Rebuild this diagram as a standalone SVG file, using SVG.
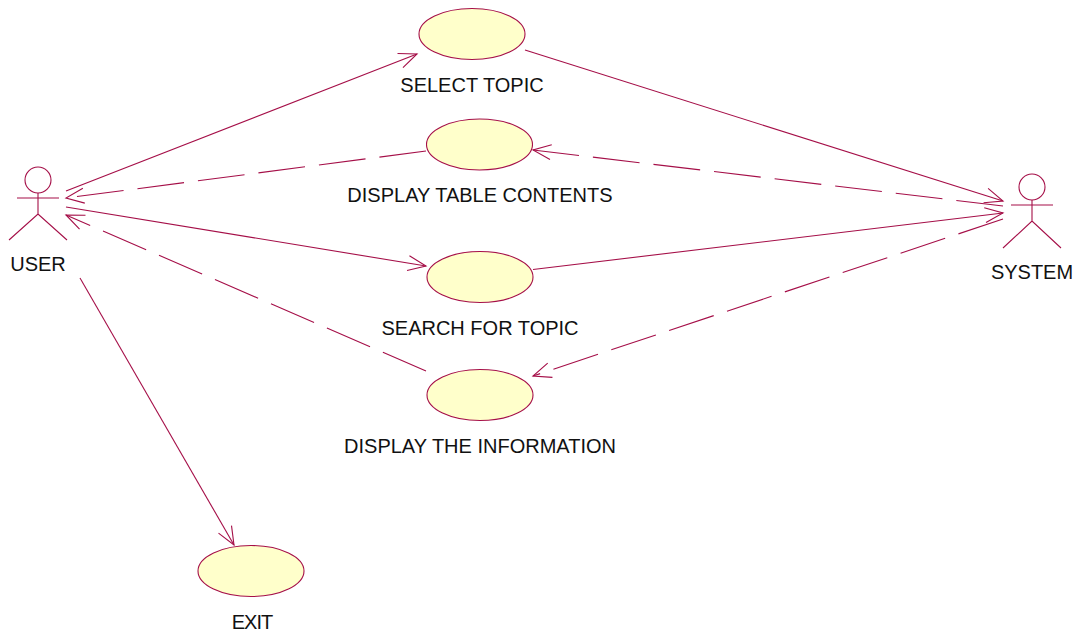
<svg xmlns="http://www.w3.org/2000/svg" width="1081" height="633" viewBox="0 0 1081 633">
<style>
.bg{fill:#fff}
.uc ellipse{fill:#ffffcb;stroke:#a50f48;stroke-width:1.1}
.actor *{fill:none;stroke:#a50f48;stroke-width:1.1}
.c line{fill:none;stroke:#a50f48;stroke-width:1.1}
.d{stroke-dasharray:47 14}
text{font-family:"Liberation Sans",Arial,sans-serif;font-size:20px;fill:#111;text-anchor:middle}
</style>
<defs>
<marker id="a" markerUnits="userSpaceOnUse" markerWidth="24" markerHeight="20" refX="20" refY="10" orient="auto"><path d="M2 2.500L20 10L2 17.500" fill="none" stroke="#a50f48" stroke-width="1.1"/></marker>
</defs>
<rect class="bg" width="1081" height="633"/>
<g id="connectors" class="c">
<line x1="66" y1="191" x2="417" y2="54" marker-end="url(#a)"/>
<line class="d" x1="426" y1="151" x2="66" y2="198" marker-end="url(#a)"/>
<line x1="66" y1="207" x2="426" y2="266" marker-end="url(#a)"/>
<line class="d" x1="426" y1="371" x2="66" y2="215" marker-end="url(#a)"/>
<line x1="80" y1="278" x2="234" y2="545" marker-end="url(#a)"/>
<line x1="525" y1="50" x2="1003" y2="201" marker-end="url(#a)"/>
<line class="d" x1="1003" y1="206" x2="533" y2="150" marker-end="url(#a)"/>
<line x1="533" y1="269.500" x2="1003" y2="213" marker-end="url(#a)"/>
<line class="d" x1="1003" y1="219" x2="533" y2="376" marker-end="url(#a)"/>
</g>
<g id="user">
<g class="actor"><circle cx="38" cy="180" r="13"/><path d="M17 198H59M38 193V214M9 240L38 214L67 240"/></g>
<text x="38" y="271">USER</text>
</g>
<g id="system">
<g class="actor"><circle cx="1032" cy="187" r="13"/><path d="M1011 205H1053M1032 200V221M1003 248L1032 221L1061 248"/></g>
<text x="1032" y="279">SYSTEM</text>
</g>
<g id="select-topic" class="uc"><ellipse cx="472" cy="34" rx="53" ry="25.500"/><text x="472" y="92">SELECT TOPIC</text></g>
<g id="display-table" class="uc"><ellipse cx="479.500" cy="144.500" rx="53" ry="25.500"/><text x="480" y="202">DISPLAY TABLE CONTENTS</text></g>
<g id="search-topic" class="uc"><ellipse cx="480" cy="277" rx="53" ry="25.500"/><text x="480" y="335">SEARCH FOR TOPIC</text></g>
<g id="display-info" class="uc"><ellipse cx="480" cy="395" rx="53" ry="25.500"/><text x="480" y="453">DISPLAY THE INFORMATION</text></g>
<g id="exit" class="uc"><ellipse cx="251" cy="571" rx="53" ry="25.500"/><text x="252" y="629" style="letter-spacing:-1px">EXIT</text></g>
</svg>
